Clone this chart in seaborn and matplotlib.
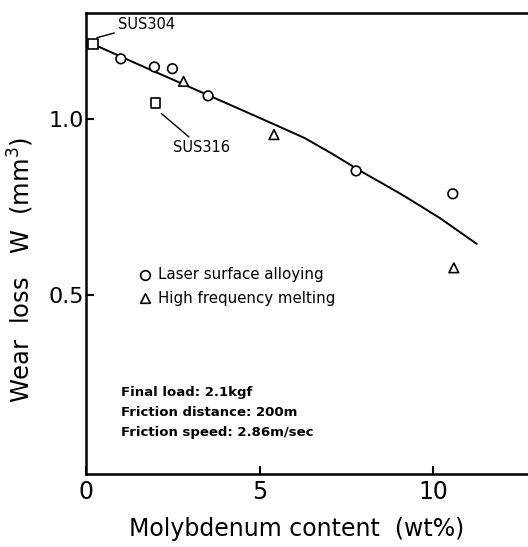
import numpy as np
import pandas as pd
import matplotlib
matplotlib.use("Agg")
import matplotlib.pyplot as plt
import seaborn as sns

# ------------------------------------------------------------------
# data
# ------------------------------------------------------------------
laser_mo   = [0.99, 1.96, 2.48, 3.51, 7.78, 10.57]
laser_wear = [1.170, 1.147, 1.142, 1.065, 0.852, 0.787]

hf_mo   = [2.80, 5.41, 10.60]
hf_wear = [1.106, 0.955, 0.577]

sus_names = ["SUS304", "SUS316"]
sus_mo    = [0.18, 1.99]
sus_wear  = [1.212, 1.045]

# fitted curve
curve_mo   = [0.18, 1.5, 3.0, 4.5, 5.6, 6.3, 7.1, 7.9, 8.6, 9.2, 10.2, 11.26]
curve_wear = [1.212, 1.154, 1.089, 1.024, 0.976, 0.945, 0.900, 0.852,
              0.813, 0.779, 0.718, 0.645]

df_pts = pd.DataFrame({
    "mo": laser_mo + hf_mo + sus_mo,
    "wear": laser_wear + hf_wear + sus_wear,
    "method": (["laser"] * len(laser_mo) + ["hf"] * len(hf_mo)
               + ["sus"] * len(sus_mo)),
})
df_curve = pd.DataFrame({"mo": curve_mo, "wear": curve_wear})

# ------------------------------------------------------------------
sns.set_theme(style="ticks")
plt.rcParams["font.family"] = ["DejaVu Sans"]
plt.rcParams["text.color"] = "black"

fig = plt.figure(figsize=(5.28, 5.47), dpi=100)
ax = fig.add_axes([0.1638, 0.1335, 0.8362, 0.8427])

sns.lineplot(data=df_curve, x="mo", y="wear", color="black", lw=1.4,
             sort=False, ax=ax)
sns.scatterplot(data=df_pts, x="mo", y="wear", style="method",
                markers={"laser": "o", "hf": "^", "sus": "s"},
                facecolor="white", edgecolor="black", linewidth=1.2,
                s=48, legend=False, zorder=3, ax=ax)

ax.set_xlim(0, 12.74)
ax.set_ylim(-0.008, 1.30)
ax.set_xticks([0, 5, 10])
ax.set_xticklabels(["0", "5", "10"])
ax.set_yticks([0.5, 1.0])
ax.set_yticklabels(["0.5", "1.0"])
ax.tick_params(direction="in", length=6, width=1.5, colors="black")
ax.tick_params(axis="x", labelsize=17, pad=4)
ax.tick_params(axis="y", labelsize=16, pad=2)
for side in ["left", "bottom", "top"]:
    ax.spines[side].set_linewidth(1.8)
    ax.spines[side].set_color("black")
ax.spines["right"].set_visible(False)

ax.set_xlabel("Molybdenum content  (wt%)", fontsize=17, color="black")
ax.set_ylabel("Wear  loss   W  (mm$^3$)", fontsize=17.5, color="black")
ax.xaxis.set_label_coords(0.477, -0.094)
ax.yaxis.set_label_coords(-0.114, 0.4425)

# SUS labels with leader lines
ax.annotate(sus_names[0], xy=(sus_mo[0] + 0.12, sus_wear[0] + 0.018),
            xytext=(0.9, 1.255), fontsize=10.5, color="black",
            arrowprops=dict(arrowstyle="-", color="black", lw=1.0,
                            shrinkA=0, shrinkB=0))
ax.annotate(sus_names[1], xy=(sus_mo[1] + 0.05, sus_wear[1] - 0.02),
            xytext=(2.5, 0.905), fontsize=10.5, color="black",
            arrowprops=dict(arrowstyle="-", color="black", lw=1.0,
                            shrinkA=0, shrinkB=4))

# in-plot legend
ax.scatter([1.7], [0.557], marker="o", s=48, facecolor="white",
           edgecolor="black", linewidth=1.2, zorder=3)
ax.scatter([1.7], [0.491], marker="^", s=48, facecolor="white",
           edgecolor="black", linewidth=1.2, zorder=3)
ax.text(2.07, 0.557, "Laser surface alloying", fontsize=10.8, va="center",
        color="black")
ax.text(2.07, 0.491, "High frequency melting", fontsize=10.8, va="center",
        color="black")

# test conditions
cond_lines = ["Final load: 2.1kgf",
              "Friction distance: 200m",
              "Friction speed: 2.86m/sec"]
for i, line in enumerate(cond_lines):
    ax.text(1.0, 0.222 - i * 0.0555, line, fontsize=9.5, va="center",
            fontweight="bold", color="black")

fig.savefig("out.png", dpi=100)
